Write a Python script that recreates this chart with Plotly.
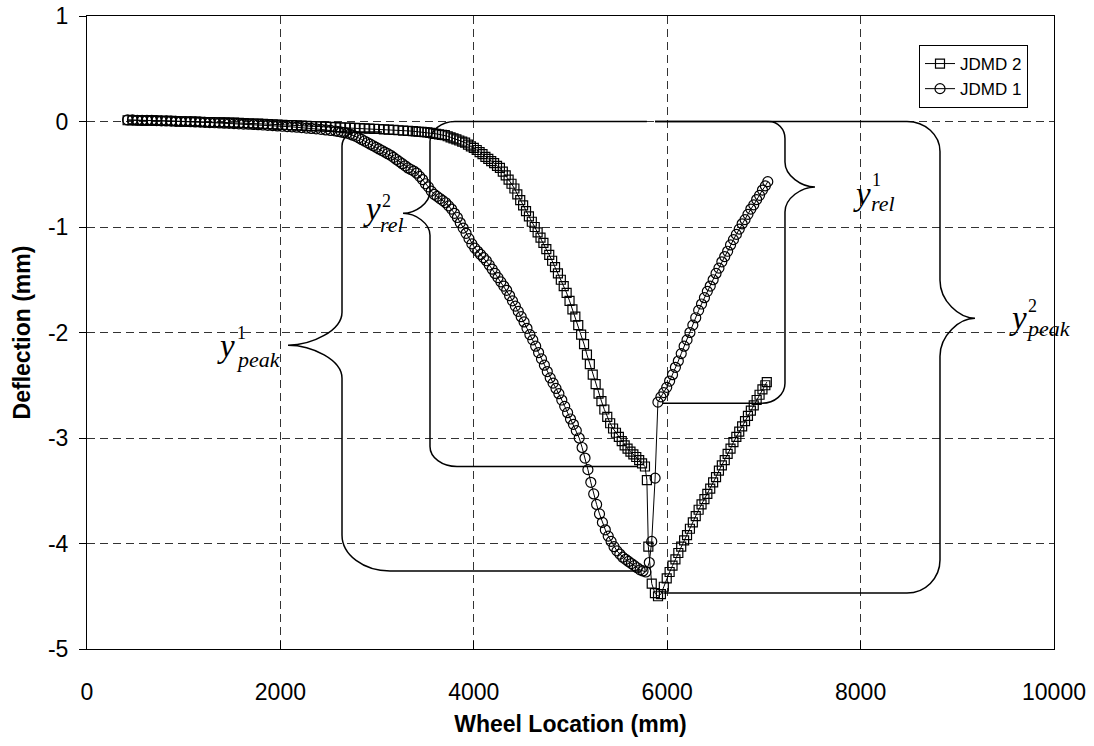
import plotly.graph_objects as go

# ---------------- data ----------------
jdmd2_x = [420, 470, 520, 570, 620, 670, 720, 770, 820, 870, 920, 970, 1020, 1070, 1120, 1170, 1220, 1270,
           1320, 1370, 1420, 1470, 1520, 1570, 1620, 1670, 1720, 1770, 1820, 1870, 1920, 1970, 2020, 2070,
           2120, 2170, 2220, 2270, 2320, 2370, 2420, 2470, 2520, 2570, 2620, 2670, 2720, 2770, 2820, 2870,
           2920, 2970, 3020, 3070, 3120, 3170, 3220, 3270, 3320, 3370,
           3400, 3430, 3460, 3490, 3520, 3550, 3580, 3610, 3640, 3670, 3700, 3730, 3760, 3790, 3820, 3850,
           3880, 3910, 3940, 3970, 4000, 4030, 4060, 4090, 4120, 4150, 4180, 4210, 4240, 4270, 4300, 4330,
           4360, 4390, 4420, 4450, 4480, 4510, 4540, 4570, 4600, 4630, 4660, 4690, 4720, 4750, 4780, 4810,
           4840, 4870, 4900, 4930, 4960, 4990, 5020, 5050, 5080, 5110, 5140, 5170, 5200, 5230, 5260, 5290,
           5320, 5350, 5380, 5410, 5440, 5470, 5500, 5530, 5560, 5590, 5620, 5650, 5680, 5710, 5740, 5770,
           5790, 5805, 5840, 5873, 5905, 5935,
           5965, 5995, 6025, 6055, 6085, 6115, 6145, 6175, 6205, 6235, 6265, 6295, 6325, 6355, 6385, 6415,
           6445, 6475, 6505, 6535, 6565, 6595, 6625, 6655, 6685, 6715, 6745, 6775, 6805, 6835, 6865, 6895,
           6925, 6955, 6985, 7015, 7030]
jdmd2_y = [0.012, 0.012, 0.011, 0.011, 0.010, 0.010, 0.009, 0.007, 0.006, 0.005, 0.003, 0.001, 0.000, -0.001,
           -0.002, -0.003, -0.005, -0.006, -0.007, -0.008, -0.009, -0.010, -0.011, -0.013, -0.015, -0.017,
           -0.019, -0.021, -0.023, -0.025, -0.027, -0.029, -0.031, -0.033, -0.035, -0.037, -0.039, -0.041,
           -0.043, -0.045, -0.047, -0.049, -0.051, -0.053, -0.055, -0.057, -0.059, -0.061, -0.063, -0.065,
           -0.067, -0.069, -0.071, -0.074, -0.077, -0.080, -0.083, -0.086, -0.089, -0.092,
           -0.095, -0.097, -0.099, -0.100, -0.103, -0.108, -0.112, -0.117, -0.122, -0.127, -0.130, -0.140,
           -0.150, -0.160, -0.170, -0.180, -0.190, -0.200, -0.220, -0.235, -0.250, -0.270, -0.290, -0.310,
           -0.335, -0.355, -0.375, -0.395, -0.420, -0.440, -0.475, -0.510, -0.550, -0.590, -0.635, -0.690,
           -0.745, -0.795, -0.850, -0.900, -0.950, -1.000, -1.050, -1.100, -1.150, -1.210, -1.265, -1.320,
           -1.380, -1.440, -1.500, -1.560, -1.625, -1.700, -1.780, -1.850, -1.930, -2.020, -2.110, -2.210,
           -2.300, -2.400, -2.490, -2.580, -2.650, -2.730, -2.800, -2.860, -2.910, -2.950, -2.990, -3.030,
           -3.070, -3.100, -3.130, -3.155, -3.180, -3.210, -3.240, -3.270,
           -3.400, -4.030, -4.380, -4.470, -4.500, -4.480,
           -4.410, -4.330, -4.270, -4.210, -4.150, -4.090, -4.030, -3.970, -3.920, -3.860, -3.800, -3.740,
           -3.680, -3.630, -3.580, -3.530, -3.480, -3.420, -3.370, -3.310, -3.260, -3.210, -3.150, -3.100,
           -3.040, -2.990, -2.940, -2.890, -2.840, -2.790, -2.740, -2.690, -2.640, -2.590, -2.540, -2.500,
           -2.470]

jdmd1_x = [420, 470, 520, 570, 620, 670, 720, 770, 820, 870, 920, 970, 1020, 1070, 1120, 1170, 1220, 1270,
           1320, 1370, 1420, 1470, 1520, 1570, 1620, 1670, 1720, 1770, 1820, 1870, 1920, 1970, 2020, 2070,
           2120, 2170, 2220, 2270, 2320, 2370, 2420, 2470, 2520, 2570,
           2600, 2630, 2660, 2690, 2720, 2750, 2780, 2810, 2840, 2870, 2900, 2930, 2960, 2990, 3020, 3050,
           3080, 3110, 3140, 3170, 3200, 3230, 3260, 3290, 3320, 3350, 3380, 3410, 3440, 3470, 3500, 3530,
           3560, 3590, 3620, 3650, 3680, 3710, 3740, 3770, 3800, 3830, 3860, 3890, 3920, 3950, 3980, 4010,
           4040, 4070, 4100, 4130, 4160, 4190, 4220, 4250, 4280, 4310, 4340, 4370, 4400, 4430, 4460, 4490,
           4520, 4550, 4580, 4610, 4640, 4670, 4700, 4730, 4760, 4790, 4820, 4850, 4880, 4910, 4940, 4970,
           5000, 5030, 5060, 5090, 5120, 5150, 5180, 5210, 5240, 5270, 5300, 5330, 5360, 5390, 5420, 5450,
           5480, 5510, 5540, 5570, 5600, 5630, 5660, 5690, 5720, 5750, 5780,
           5815, 5840, 5875, 5904,
           5935, 5965, 5995, 6025, 6055, 6085, 6115, 6145, 6175, 6205, 6235, 6265, 6295, 6325, 6355, 6385,
           6415, 6445, 6475, 6505, 6535, 6565, 6595, 6625, 6655, 6685, 6715, 6745, 6775, 6805, 6835, 6865,
           6895, 6925, 6955, 6985, 7015, 7040]
jdmd1_y = [0.015, 0.015, 0.012, 0.010, 0.010, 0.010, 0.008, 0.006, 0.005, 0.004, 0.002, 0.000, 0.000, -0.002,
           -0.004, -0.006, -0.008, -0.010, -0.012, -0.014, -0.016, -0.018, -0.020, -0.022, -0.024, -0.026,
           -0.028, -0.030, -0.033, -0.036, -0.039, -0.042, -0.045, -0.048, -0.051, -0.054, -0.058, -0.062,
           -0.066, -0.070, -0.075, -0.080, -0.085, -0.090,
           -0.095, -0.100, -0.105, -0.110, -0.120, -0.130, -0.140, -0.155, -0.170, -0.185, -0.200, -0.215,
           -0.230, -0.245, -0.260, -0.275, -0.290, -0.305, -0.320, -0.340, -0.360, -0.380, -0.400, -0.420,
           -0.440, -0.455, -0.470, -0.490, -0.520, -0.550, -0.590, -0.620, -0.660, -0.690, -0.710, -0.730,
           -0.750, -0.770, -0.800, -0.830, -0.870, -0.910, -0.960, -1.010, -1.060, -1.110, -1.160, -1.200,
           -1.230, -1.260, -1.290, -1.320, -1.360, -1.400, -1.440, -1.480, -1.520, -1.560, -1.600, -1.650,
           -1.700, -1.750, -1.800, -1.850, -1.900, -1.960, -2.020, -2.070, -2.130, -2.190, -2.250, -2.310,
           -2.370, -2.430, -2.480, -2.530, -2.580, -2.640, -2.700, -2.760, -2.820, -2.870, -2.930, -3.000,
           -3.090, -3.190, -3.300, -3.420, -3.530, -3.630, -3.720, -3.800, -3.870, -3.930, -3.980, -4.030,
           -4.070, -4.100, -4.130, -4.150, -4.170, -4.190, -4.210, -4.230, -4.250, -4.260, -4.270,
           -4.180, -3.980, -3.380, -2.660,
           -2.610, -2.570, -2.520, -2.460, -2.400, -2.330, -2.270, -2.200, -2.130, -2.070, -2.000, -1.930,
           -1.860, -1.790, -1.730, -1.670, -1.610, -1.560, -1.500, -1.440, -1.390, -1.330, -1.280, -1.230,
           -1.170, -1.120, -1.070, -1.020, -0.970, -0.930, -0.880, -0.830, -0.790, -0.740, -0.700, -0.650,
           -0.610, -0.570]

series_names = ["JDMD 2", "JDMD 1"]

x_ticks = [0, 2000, 4000, 6000, 8000, 10000]
y_ticks = [1, 0, -1, -2, -3, -4, -5]

# ---------------- layout geometry ----------------
W, H = 1094, 746
ML, MR, MT, MB = 87, 40, 16, 97
PW, PH = W - ML - MR, H - MT - MB
XR, YR = (0, 10000), (-5, 1)


def dx(px):
    return px * (XR[1] - XR[0]) / PW


def dy(px):
    return px * (YR[1] - YR[0]) / PH


K = 0.448  # quarter-circle control distance


def brace(xv, y_top, y_bot, y_tip, arm_top, arm_bot, side, rt, rb, tw, th):
    s = -1 if side == "left" else 1   # direction of tip
    a = -s                            # direction of arms
    rtx, rty = dx(rt[0]), dy(rt[1])
    rbx, rby = dx(rb[0]), dy(rb[1])
    w, h = dx(tw), dy(th)
    p = []
    p.append(f"M{arm_top},{y_top}")
    p.append(f"L{xv + a*rtx},{y_top}")
    p.append(f"C{xv + a*rtx*K},{y_top} {xv},{y_top - rty*K} {xv},{y_top - rty}")
    p.append(f"L{xv},{y_tip + h}")
    p.append(f"C{xv},{y_tip + h*0.45} {xv + s*w*0.55},{y_tip} {xv + s*w},{y_tip}")
    p.append(f"C{xv + s*w*0.55},{y_tip} {xv},{y_tip - h*0.45} {xv},{y_tip - h}")
    p.append(f"L{xv},{y_bot + rby}")
    p.append(f"C{xv},{y_bot + rby*K} {xv + a*rbx*K},{y_bot} {xv + a*rbx},{y_bot}")
    p.append(f"L{arm_bot},{y_bot}")
    return " ".join(p)


braces = [
    dict(sup="2", sub="rel", xv=3547, top=0.0, bot=-3.27, tip=-0.87, at=5790, ab=5690, side="left",
         rt=(25, 20), rb=(27, 20), tw=27, th=22,
         off=dict(y=(-31, 2), sup=(-16, -12), sub=(-11, 11))),
    dict(sup="1", sub="peak", xv=2637, top=-0.10, bot=-4.26, tip=-2.12, at=2637 + dx(40), ab=5720, side="left",
         rt=(15, 14), rb=(48, 36), tw=54, th=33,
         off=dict(y=(-62, 7), sup=(-47, -12), sub=(-30, 14))),
    dict(sup="1", sub="rel", xv=7218, top=0.0, bot=-2.67, tip=-0.62, at=5874, ab=5946, side="right",
         rt=(16, 17), rb=(23, 20), tw=30, th=25,
         off=dict(y=(47, 13), sup=(62, -7), sub=(68, 17))),
    dict(sup="2", sub="peak", xv=8821, top=0.0, bot=-4.47, tip=-1.865, at=5874, ab=5960, side="right",
         rt=(33, 30), rb=(33, 33), tw=35, th=38,
         off=dict(y=(43, 6), sup=(58, -12), sub=(74, 10))),
]

fig = go.Figure()

fig.add_trace(go.Scatter(
    x=jdmd2_x, y=jdmd2_y, name=series_names[0], mode="lines+markers",
    line=dict(color="black", width=1),
    marker=dict(symbol="square-open", size=9, color="black", line=dict(width=1.2, color="black")),
))
fig.add_trace(go.Scatter(
    x=jdmd1_x, y=jdmd1_y, name=series_names[1], mode="lines+markers",
    line=dict(color="black", width=1),
    marker=dict(symbol="circle-open", size=10, color="black", line=dict(width=1.2, color="black")),
))

serif = "Liberation Serif, Times New Roman, serif"
for b in braces:
    fig.add_shape(type="path", xref="x", yref="y",
                  path=brace(b["xv"], b["top"], b["bot"], b["tip"], b["at"], b["ab"], b["side"],
                             b["rt"], b["rb"], b["tw"], b["th"]),
                  line=dict(color="black", width=1.5), layer="above")
    s = -1 if b["side"] == "left" else 1
    tipx = b["xv"] + s * dx(b["tw"])
    o = b["off"]
    fig.add_annotation(x=tipx, y=b["tip"], xref="x", yref="y", text="<i>y</i>", showarrow=False,
                       xshift=o["y"][0], yshift=-(o["y"][1] - 6), xanchor="center", yanchor="middle",
                       font=dict(family=serif, size=33, color="black"))
    fig.add_annotation(x=tipx, y=b["tip"], xref="x", yref="y", text=b["sup"], showarrow=False,
                       xshift=o["sup"][0], yshift=-o["sup"][1], xanchor="center", yanchor="middle",
                       font=dict(family=serif, size=18, color="black"))
    fig.add_annotation(x=tipx, y=b["tip"], xref="x", yref="y", text="<i>" + b["sub"] + "</i>", showarrow=False,
                       xshift=o["sub"][0], yshift=-o["sub"][1], xanchor="center", yanchor="middle",
                       font=dict(family=serif, size=22, color="black"))

sans = "Liberation Sans, Arial, sans-serif"
fig.update_layout(
    width=W, height=H,
    margin=dict(l=ML, r=MR, t=MT, b=MB, autoexpand=False),
    paper_bgcolor="white", plot_bgcolor="white",
    font=dict(family=sans, size=23, color="black"),
    showlegend=True,
    legend=dict(x=(1028 - ML) / PW, y=1 - (45 - MT) / PH, xanchor="right", yanchor="top",
                bgcolor="white", bordercolor="black", borderwidth=1,
                font=dict(family=sans, size=17, color="black"),
                tracegroupgap=0, itemwidth=30),
    xaxis=dict(range=list(XR), tickvals=x_ticks, ticktext=[str(v) for v in x_ticks],
               automargin=False,
               showline=True, linecolor="black", linewidth=1, mirror=True,
               ticks="inside", ticklen=8, tickcolor="black",
               showgrid=True, gridcolor="#333333", gridwidth=1, griddash="8px,5px",
               zeroline=False, ticklabelstandoff=22,
               title=dict(text="<b>Wheel Location (mm)</b>", font=dict(size=23), standoff=12)),
    yaxis=dict(range=list(YR), tickvals=y_ticks, ticktext=[str(v) for v in y_ticks],
               automargin=False,
               showline=True, linecolor="black", linewidth=1, mirror=True,
               ticks="outside", ticklen=7, tickcolor="black",
               showgrid=True, gridcolor="#333333", gridwidth=1, griddash="8px,5px",
               zeroline=False, ticklabelstandoff=6,
               title=dict(text="<b>Deflection (mm)</b>", font=dict(size=23), standoff=10)),
)

# remove the browser's default 8px page margin so the figure sits at the window origin
fig.write_html("out.html", config={"displayModeBar": False},
               post_script="document.body.style.margin='0';")
